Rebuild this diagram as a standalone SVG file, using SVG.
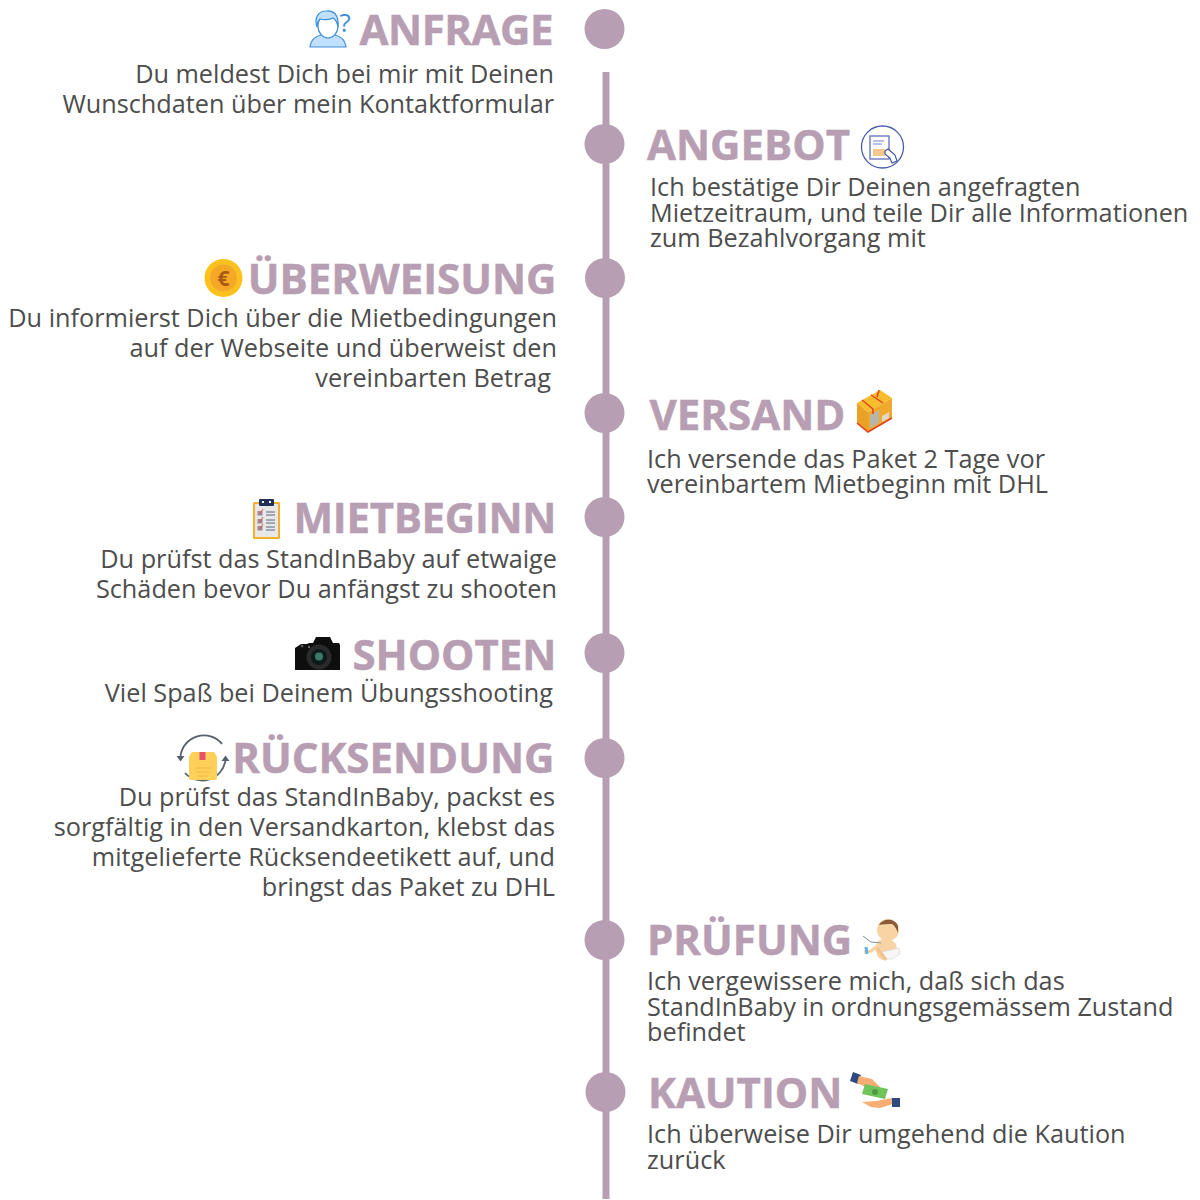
<svg xmlns="http://www.w3.org/2000/svg" width="1200" height="1200" viewBox="0 0 1200 1200">
<style>
.h{font:700 42px "Open Sans",sans-serif;fill:#b89eb3;stroke:#b89eb3;stroke-width:.5}
.t{font:400 25.250px "Open Sans",sans-serif;fill:#4d4d4d}
.e{text-anchor:end}
.d{fill:#b89eb3}
</style>
<rect width="1200" height="1200" fill="#fff"/>
<g id="connectors"><line x1="606" y1="72" x2="606" y2="1199" stroke="#b89eb3" stroke-width="7"/></g>
<g id="anfrage"><circle class="d" cx="604.500" cy="29" r="20"/>
<text class="h e" x="553.500" y="44.500" textLength="194">ANFRAGE</text>
<text class="t e" x="554" y="83">Du meldest Dich bei mir mit Deinen</text>
<text class="t e" x="554" y="113">Wunschdaten über mein Kontaktformular</text>
<g stroke="#3f8fd8" stroke-width="1.200"><path d="M310 47c1-9 7-11 14-13h8c7 2 13 4 14 13z" fill="#bfe0ff"/><ellipse cx="328" cy="26" rx="10" ry="12" fill="#fff"/><path d="M317 27c-3-9 1-16 9-16 7-1 13 3 12 16-1-5-3-8-5-9-4 2-10 2-13 1-2 2-3 5-3 8z" fill="#bfe0ff"/></g>
<text x="339.500" y="32" style="font:400 26px 'Open Sans',sans-serif;fill:#3f8fd8">?</text></g>
<g id="angebot"><circle class="d" cx="604.500" cy="144" r="20"/>
<text class="h" x="647" y="159.500">ANGEBOT</text>
<text class="t" x="650" y="196">Ich bestätige Dir Deinen angefragten</text>
<text class="t" x="650" y="222">Mietzeitraum, und teile Dir alle Informationen</text>
<text class="t" x="650" y="247">zum Bezahlvorgang mit</text>
<circle cx="882.500" cy="147" r="21" fill="#fff" stroke="#4a5bab" stroke-width="1.300"/>
<rect x="870" y="136" width="19" height="23" fill="#fff" stroke="#7482c4" stroke-width="1.500"/>
<path d="M873 141h11M873 144h9" stroke="#6f86d6" stroke-width="1.200"/>
<path d="M874 149v7M876 149v7M878 149v7M880 149v7M882 149v7M884 149v7" stroke="#f0a850" stroke-width="1.300"/>
<path d="M885 151l3-2 7 6 2 6-5 2-2-5-5-4z" fill="#fff" stroke="#3d4f9e" stroke-width="1.100"/></g>
<g id="ueberweisung"><circle class="d" cx="605" cy="278" r="20"/>
<text class="h e" x="556.500" y="293.500">ÜBERWEISUNG</text>
<text class="t e" x="557" y="327">Du informierst Dich über die Mietbedingungen</text>
<text class="t e" x="557" y="357">auf der Webseite und überweist den</text>
<text class="t e" x="551" y="387">vereinbarten Betrag</text>
<circle cx="223.500" cy="278" r="19" fill="#fcc21b"/><circle cx="223.500" cy="278" r="14" fill="#f4a825" stroke="#f9c035"/>
<text x="223.500" y="286" text-anchor="middle" style="font:700 21px 'Open Sans',sans-serif;fill:#a85a15">€</text></g>
<g id="versand"><circle class="d" cx="604.500" cy="413" r="20"/>
<text class="h" x="649.500" y="429.500">VERSAND</text>
<text class="t" x="647" y="468">Ich versende das Paket 2 Tage vor</text>
<text class="t" x="647" y="493">vereinbartem Mietbeginn mit DHL</text>
<path d="M857 403l23-13 12 8-24 14z" fill="#f7bd2c"/><path d="M868 412l24-14v20l-24 14z" fill="#f0a92a"/>
<path d="M857 403l11 9v20l-11-8z" fill="#e9a128"/>
<path d="M870 415l9-5v13l-9 5z" fill="#b8b5aa"/><path d="M882 416l7-4v6l-7 4z" fill="#ddd8c8"/>
<path d="M862 400l11 9v5M871 395l12 8M879 390l-2 7M857 423l11 9 24-14" stroke="#e2401f" stroke-width="1.500" fill="none"/></g>
<g id="mietbeginn"><circle class="d" cx="604.500" cy="517" r="20"/>
<text class="h e" x="556.500" y="533" textLength="263">MIETBEGINN</text>
<text class="t e" x="557" y="568">Du prüfst das StandInBaby auf etwaige</text>
<text class="t e" x="557" y="598">Schäden bevor Du anfängst zu shooten</text>
<rect x="253" y="502" width="27" height="37" rx="1.500" fill="#f5ae2d"/><rect x="255" y="504" width="23" height="33" fill="#e7e7e7"/>
<rect x="259" y="499" width="15" height="7" rx="1" fill="#1f3157"/><path d="M262 502h2M269 502h2" stroke="#fff" stroke-width="2"/>
<g fill="#a08a97"><rect x="257.500" y="511" width="5" height="4.500"/><rect x="257.500" y="519" width="5" height="4.500"/><rect x="257.500" y="526" width="5" height="4.500"/></g>
<path d="M260 514l3-5M260 522l3-5M260 529l3-5" stroke="#d9534f" stroke-width="1"/>
<path d="M266 512h9M266 515h9M266 520h9M266 523h9M266 527h9M266 530h9" stroke="#5d6b80" stroke-width="1"/></g>
<g id="shooten"><circle class="d" cx="604.500" cy="653" r="20"/>
<text class="h e" x="556.500" y="670">SHOOTEN</text>
<text class="t e" x="553" y="702">Viel Spaß bei Deinem Übungsshooting</text>
<path d="M295 648l6-4h6l2-1h4l3-6h14l3 6h6l1 2v25h-45z" fill="#0e0e0e"/>
<circle cx="302" cy="646" r="1.500" fill="#555"/><circle cx="309" cy="647" r="1" fill="#888"/>
<circle cx="319" cy="657" r="12.500" fill="#2a2a2a"/><circle cx="319" cy="657" r="8" fill="#0d1a1a"/><circle cx="319" cy="656.500" r="4" fill="#3d7a66"/></g>
<g id="ruecksendung"><circle class="d" cx="604.500" cy="758" r="20"/>
<text class="h e" x="554.500" y="773">RÜCKSENDUNG</text>
<text class="t e" x="555" y="806">Du prüfst das StandInBaby, packst es</text>
<text class="t e" x="555" y="836">sorgfältig in den Versandkarton, klebst das</text>
<text class="t e" x="555" y="866">mitgelieferte Rücksendeetikett auf, und</text>
<text class="t e" x="555" y="896">bringst das Paket zu DHL</text>
<path d="M180.500 756A23.500 23.500 0 0 1 222 744M225.500 760A23.500 23.500 0 0 1 185 773" fill="none" stroke="#56606e" stroke-width="1.800"/>
<path d="M176.500 756l4 5.500 4-5.500zM221.500 761l4-5.500 4 5.500z" fill="#56606e"/>
<path d="M189 757l3-5h22l3 5v21a2 2 0 0 1-2 2h-24a2 2 0 0 1-2-2z" fill="#fdd05a"/>
<rect x="199.500" y="752" width="6" height="8" fill="#e8506c"/>
<path d="M195 768h16M196 772h14M198 776h10" stroke="#f2b742" stroke-width="1"/></g>
<g id="pruefung"><circle class="d" cx="604.500" cy="940" r="20"/>
<text class="h" x="647" y="955">PRÜFUNG</text>
<text class="t" x="647" y="990">Ich vergewissere mich, daß sich das</text>
<text class="t" x="647" y="1016">StandInBaby in ordnungsgemässem Zustand</text>
<text class="t" x="647" y="1041">befindet</text>
<path d="M878 941c5-3 14-3 18 3l2 11-8 3-8 2-4-3-3-8z" fill="#f8d3a3"/>
<circle cx="888" cy="930" r="11" fill="#f8d3a3"/><path d="M879 925c3-6 15-8 19 1l0 7c-2-5-3-7-6-9-4 0-9 0-13 1z" fill="#8a5a3a"/>
<path d="M882 952l17-4 1 6-8 5h-6z" fill="#f6f6f6" stroke="#d4d4d4" stroke-width=".6"/>
<path d="M877 948l6 8 3 4" fill="none" stroke="#f0c28c" stroke-width="3"/>
<path d="M863 936l8 6 10 1" fill="none" stroke="#7d8ea0"/><path d="M864 952l7-1 9-7" fill="none" stroke="#f8d3a3" stroke-width="3"/><path d="M866 947l1 7" stroke="#5eb6e0" stroke-width="3"/></g>
<g id="kaution"><circle class="d" cx="605.500" cy="1092" r="20"/>
<text class="h" x="648" y="1107.500">KAUTION</text>
<text class="t" x="647" y="1143">Ich überweise Dir umgehend die Kaution</text>
<text class="t" x="647" y="1169">zurück</text>
<path d="M853 1072l8 3-3 9-8-3z" fill="#2c4a80"/>
<path d="M859 1076l13 3 8 8-5 3-9-3-9-4z" fill="#f8ad72"/>
<path d="M865 1084l23 5-3 10-23-5z" fill="#6fc45a"/><circle cx="875" cy="1092" r="3" fill="#4f9a45"/>
<path d="M862 1102l14-1 16-3 1 6-13 4-9-1z" fill="#f8ad72"/>
<rect x="892" y="1098" width="8" height="9" fill="#2c4a80"/></g>
</svg>
